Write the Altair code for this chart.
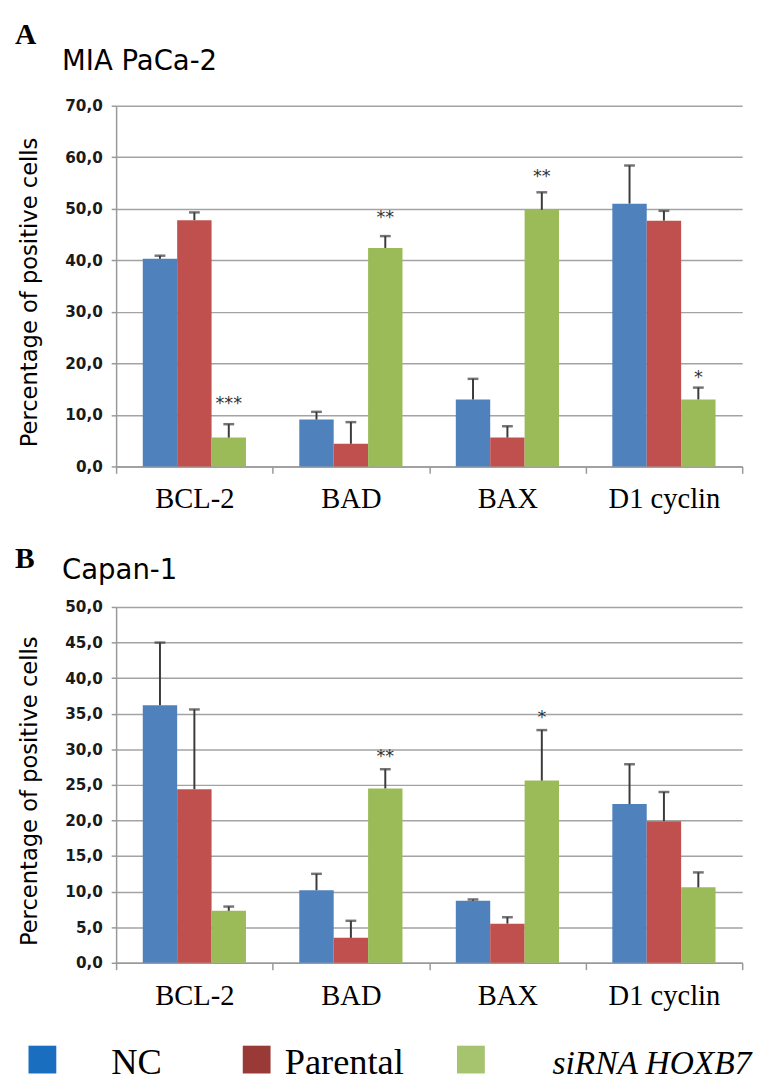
import altair as alt
import pandas as pd

categories = ["BCL-2", "BAD", "BAX", "D1 cyclin"]
series = ["NC", "Parental", "siRNA HOXB7"]

# Panel A: MIA PaCa-2 (mean, error = upper bar length)
mia_nc = [40.3, 9.1, 13.0, 51.0]
mia_par = [47.8, 4.4, 5.6, 47.7]
mia_si = [5.6, 42.4, 49.8, 13.0]
mia_nc_err = [0.6, 1.5, 4.0, 7.4]
mia_par_err = [1.5, 4.2, 2.2, 1.9]
mia_si_err = [2.6, 2.3, 3.4, 2.3]
mia_sig_cat = ["BCL-2", "BAD", "BAX", "D1 cyclin"]
mia_sig_text = ["***", "**", "**", "*"]
mia_sig_pos = [13.1, 49.2, 57.2, 18.1]

# Panel B: Capan-1
cap_nc = [36.2, 10.2, 8.7, 22.3]
cap_par = [24.4, 3.5, 5.5, 19.9]
cap_si = [7.3, 24.5, 25.6, 10.6]
cap_nc_err = [8.8, 2.3, 0.2, 5.6]
cap_par_err = [11.2, 2.4, 0.9, 4.1]
cap_si_err = [0.6, 2.7, 7.1, 2.1]
cap_sig_cat = ["BAD", "BAX"]
cap_sig_text = ["**", "*"]
cap_sig_pos = [29.6, 35.1]

panel_letters = ["A", "B"]
panel_names = ["MIA PaCa-2", "Capan-1"]
y_title = "Percentage of positive cells"

bar_colors = ["#4F81BD", "#C0504D", "#9BBB59"]
legend_colors = ["#1A6EC0", "#993A36", "#A6C46D"]

GRID = "#a3a3a3"
ERR = "#3a3a3a"
W = 637


def make_df(vals, errs):
    rows = []
    for s, v, e in zip(series, vals, errs):
        for c, vv, ee in zip(categories, v, e):
            rows.append({"cat": c, "series": s, "value": vv, "upper": round(vv + ee, 2)})
    return pd.DataFrame(rows)


def panel(df, sig_df, ymax, ystep, letter, name, H, letter_y, name_y):
    xs = alt.X(
        "cat:N", sort=categories, title=None,
        scale=alt.Scale(paddingInner=0, paddingOuter=0),
        axis=alt.Axis(labelAngle=0, labelFont="Liberation Serif", labelFontSize=29,
                      labelColor="black", tickBand="extent", tickSize=7, tickColor="#999999",
                      tickWidth=1.5, domainColor="#999999", domainWidth=1.5,
                      labelPadding=12, grid=False),
    )
    xo = alt.XOffset("series:N", sort=series,
                     scale=alt.Scale(paddingInner=0, paddingOuter=0.775))
    yaxis = alt.Axis(
        values=list(range(0, ymax + 1, ystep)),
        labelExpr="replace(format(datum.value, '.1f'), '.', ',')",
        labelFont="DejaVu Sans", labelFontSize=15.5, labelFontWeight="bold",
        labelColor="#1a1a1a",
        domainColor="#999999", domainWidth=1.5, tickColor="#999999", tickSize=5,
        tickWidth=1.5, gridColor=GRID, gridWidth=1.5, labelPadding=9,
        titleFont="DejaVu Sans", titleFontSize=23, titleFontWeight="normal",
        titleColor="black", titleX=-81, titleY=H / 2 + 6, titleBaseline="alphabetic",
        titleAngle=270, titleAlign="center",
    )

    def Y(field):
        return alt.Y(field, scale=alt.Scale(domain=[0, ymax], nice=False),
                     axis=yaxis, title=y_title)

    bars = alt.Chart(df).mark_bar().encode(
        x=xs, xOffset=xo, y=Y("value:Q"),
        color=alt.Color("series:N", sort=series,
                        scale=alt.Scale(domain=series, range=bar_colors), legend=None),
    )
    err = alt.Chart(df).mark_rule(color=ERR, strokeWidth=2).encode(
        x=xs, xOffset=xo, y=Y("value:Q"), y2="upper:Q")
    cap = alt.Chart(df).mark_tick(color=ERR, thickness=2.5, size=11,
                                  orient="horizontal").encode(
        x=xs, xOffset=xo, y=Y("upper:Q"))
    stars = alt.Chart(sig_df).mark_text(
        font="DejaVu Sans", fontSize=18, color="#333333", baseline="alphabetic", dy=10
    ).encode(x=xs, xOffset=xo, y=Y("pos:Q"), text="label:N")

    lab = pd.DataFrame({"letter": [letter], "name": [name]})
    letter_t = alt.Chart(lab).mark_text(
        font="Liberation Serif", fontSize=30, fontWeight="bold", align="left",
        baseline="top", color="black"
    ).encode(x=alt.value(-103), y=alt.value(letter_y), text="letter:N")
    name_t = alt.Chart(lab).mark_text(
        font="DejaVu Sans", fontSize=28, align="left", baseline="alphabetic", color="black"
    ).encode(x=alt.value(-55), y=alt.value(name_y), text="name:N")

    return alt.layer(bars, err, cap, stars, letter_t, name_t).properties(width=W, height=H)


mia_df = make_df([mia_nc, mia_par, mia_si], [mia_nc_err, mia_par_err, mia_si_err])
cap_df = make_df([cap_nc, cap_par, cap_si], [cap_nc_err, cap_par_err, cap_si_err])
mia_sig = pd.DataFrame({"cat": mia_sig_cat, "series": series[2], "label": mia_sig_text,
                        "pos": mia_sig_pos})
cap_sig = pd.DataFrame({"cat": cap_sig_cat, "series": series[2], "label": cap_sig_text,
                        "pos": cap_sig_pos})

top = panel(mia_df, mia_sig, 70, 10, panel_letters[0], panel_names[0], 367, -87, -36)
bottom = panel(cap_df, cap_sig, 50, 5, panel_letters[1], panel_names[1], 362, -64, -28)

# Legend row
leg_df = pd.DataFrame({"series": series})
lx = alt.X("series:N", sort=series, axis=None,
           scale=alt.Scale(type="point", range=[-75, 361], padding=0))
squares = alt.Chart(leg_df).mark_square(size=800, opacity=1).encode(
    x=lx, y=alt.value(19.5),
    color=alt.Color("series:N", sort=series,
                    scale=alt.Scale(domain=series, range=legend_colors), legend=None),
)
text_dx = [70, 28.5, 83]
text_style = ["normal", "normal", "italic"]
text_size = [37, 37, 34]
leg_texts = []
for s, dx, st, fs in zip(series, text_dx, text_style, text_size):
    leg_texts.append(
        alt.Chart(leg_df).transform_filter(alt.datum.series == s).mark_text(
            align="left", baseline="alphabetic", dx=dx, font="Liberation Serif",
            fontSize=fs, fontStyle=st, color="black"
        ).encode(x=lx, y=alt.value(34), text="series:N")
    )
legend = alt.layer(squares, *leg_texts).properties(width=W, height=30)

chart = alt.vconcat(top, bottom, legend, spacing=31).resolve_scale(
    x="independent", y="independent", color="independent", xOffset="independent"
).properties(
    padding={"left": 7, "top": 3, "right": 0, "bottom": 0}, background="white"
).configure_view(stroke=None)

chart.save("out.html", embed_options={"renderer": "svg", "actions": False})
